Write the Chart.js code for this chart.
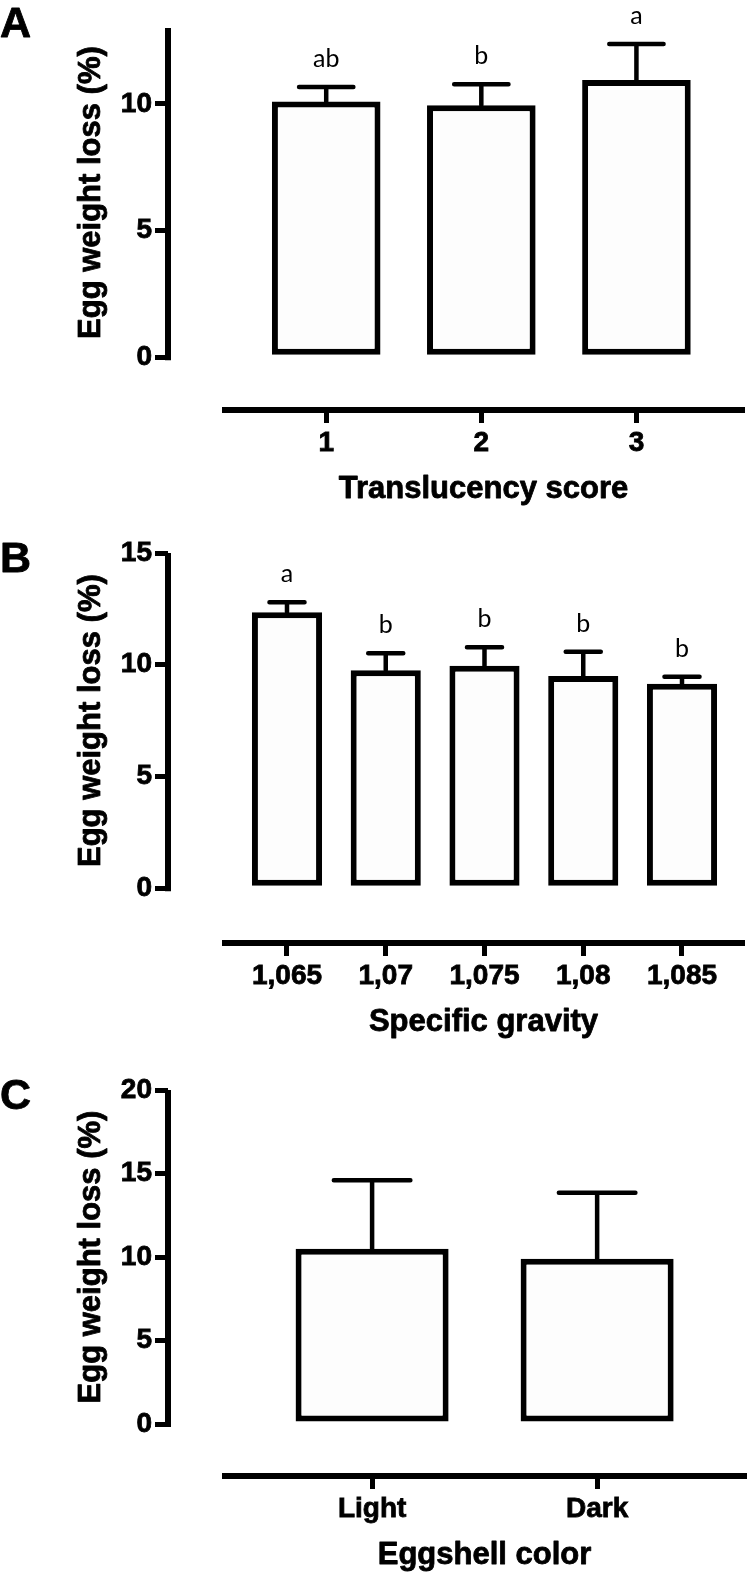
<!DOCTYPE html>
<html>
<head>
<meta charset="utf-8">
<script src="https://cdn.jsdelivr.net/npm/chart.js@4.4.0/dist/chart.umd.min.js"></script>
<style>
    body { margin: 0; background: #fff; }
    canvas { display: block; }
</style>
</head>
<body>
<canvas id="chartA" width="750" height="520"></canvas>
<canvas id="chartB" width="750" height="530"></canvas>
<canvas id="chartC" width="750" height="526"></canvas>
<script>
// Egg weight loss - three bar panels (Prism style, offset axes)

// Panel A: translucency score
const scoreLabels = ['1', '2', '3'];
const scoreMeans = [10.1, 9.95, 10.95];
const scoreErrors = [0.57, 0.83, 1.42];
const scoreLetters = ['ab', 'b', 'a'];
const scoreTicks = [0, 5, 10];

// Panel B: specific gravity
const gravityLabels = ['1,065', '1,07', '1,075', '1,08', '1,085'];
const gravityMeans = [12.35, 9.75, 9.95, 9.5, 9.15];
const gravityErrors = [0.45, 0.77, 0.83, 1.08, 0.31];
const gravityLetters = ['a', 'b', 'b', 'b', 'b'];
const gravityTicks = [0, 5, 10, 15];

// Panel C: eggshell color
const colorLabels = ['Light', 'Dark'];
const colorMeans = [10.5, 9.9];
const colorErrors = [4.1, 3.95];
const colorTicks = [0, 5, 10, 15, 20];

const FONT = '"Liberation Sans", Arial, sans-serif';
Chart.defaults.font.family = FONT;
Chart.defaults.color = '#000';

// heavy text, like the Prism export
function heavyText(ctx, text, x, y) {
    ctx.fillText(text, x, y);
    ctx.strokeText(text, x, y);
}

// Draws error bars, letters, the detached axis lines and titles
const prismPlugin = {
    id: 'prism',
    afterDatasetsDraw(chart, args, opts) {
        const ctx = chart.ctx;
        const area = chart.chartArea;
        const y = chart.scales.y;
        const meta = chart.getDatasetMeta(0);

        ctx.save();
        ctx.strokeStyle = '#000';
        ctx.fillStyle = '#000';

        // error bars (upper only)
        ctx.lineWidth = 4.5;
        ctx.lineCap = 'round';
        meta.data.forEach((bar, i) => {
            const top = y.getPixelForValue(opts.means[i] + opts.errors[i]);
            ctx.beginPath();
            ctx.moveTo(bar.x, bar.y);
            ctx.lineTo(bar.x, top);
            ctx.moveTo(bar.x - bar.width / 4, top);
            ctx.lineTo(bar.x + bar.width / 4, top);
            ctx.stroke();

            if (opts.letters) {
                ctx.font = '25px Lato, "Open Sans", sans-serif';
                ctx.textAlign = 'center';
                ctx.textBaseline = 'middle';
                ctx.fillText(opts.letters[i], bar.x, top - 28);
            }
        });

        // y axis line from 0 to max
        ctx.lineCap = 'butt';
        ctx.lineWidth = 6;
        const yTop = y.getPixelForValue(y.max);
        const yZero = y.getPixelForValue(0);
        ctx.beginPath();
        ctx.moveTo(area.left, yTop);
        ctx.lineTo(area.left, yZero + 3);
        ctx.stroke();

        // detached x axis line
        ctx.beginPath();
        ctx.moveTo(opts.axisStart, area.bottom);
        ctx.lineTo(area.right, area.bottom);
        ctx.stroke();

        // axis titles
        ctx.lineWidth = 0.8;
        ctx.lineJoin = 'round';
        ctx.font = 'bold 31px ' + FONT;
        ctx.textAlign = 'center';
        ctx.textBaseline = 'middle';
        heavyText(ctx, opts.xTitle, (opts.axisStart + area.right) / 2, area.bottom + 79);

        ctx.save();
        ctx.translate(91, (yTop + yZero) / 2);
        ctx.rotate(-Math.PI / 2);
        heavyText(ctx, 'Egg weight loss (%)', 0, 0);
        ctx.restore();

        // panel letter
        ctx.font = 'bold 43px ' + FONT;
        ctx.textAlign = 'left';
        ctx.textBaseline = 'alphabetic';
        heavyText(ctx, opts.panel, 0, opts.panelY);

        ctx.restore();
    }
};

function makePanel(id, p) {
    const ctx = document.getElementById(id).getContext('2d');
    const tickFont = { size: 28, weight: 'bold' };

    return new Chart(ctx, {
        type: 'bar',
        data: {
            datasets: [{
                data: p.means.map((v, i) => ({ x: i + 1, y: v })),
                backgroundColor: '#fdfdfd',
                borderColor: '#000',
                borderWidth: 6,
                borderSkipped: false,
                barPercentage: p.barPct,
                categoryPercentage: 1
            }]
        },
        options: {
            responsive: false,
            animation: false,
            layout: { padding: { top: p.padTop, right: p.padRight, left: 0, bottom: 0 } },
            plugins: {
                legend: { display: false },
                tooltip: { enabled: false },
                prism: {
                    means: p.means,
                    errors: p.errors,
                    letters: p.letters,
                    axisStart: 222,
                    xTitle: p.xTitle,
                    panel: p.panel,
                    panelY: p.panelY
                }
            },
            scales: {
                x: {
                    type: 'linear',
                    offset: false,
                    min: p.xMin,
                    max: p.xMax,
                    afterBuildTicks: s => { s.ticks = p.labels.map((_, i) => ({ value: i + 1 })); },
                    afterFit: s => { s.height = p.xHeight; },
                    ticks: {
                        callback: v => p.labels[Math.round(v) - 1],
                        autoSkip: false,
                        maxRotation: 0,
                        font: tickFont,
                        color: '#000',
                        textStrokeColor: '#000',
                        textStrokeWidth: 0.8,
                        padding: 3
                    },
                    grid: { offset: false, drawOnChartArea: false, drawTicks: true, tickLength: 13, lineWidth: 5, color: '#000' },
                    border: { display: false }
                },
                y: {
                    min: p.yMin,
                    max: p.yMax,
                    afterBuildTicks: s => { s.ticks = p.yTicks.map(v => ({ value: v })); },
                    afterFit: s => { s.width = 168; },
                    ticks: {
                        callback: v => String(v),
                        font: tickFont,
                        color: '#000',
                        textStrokeColor: '#000',
                        textStrokeWidth: 0.8,
                        padding: 3
                    },
                    grid: { drawOnChartArea: false, drawTicks: true, tickLength: 13, lineWidth: 5, color: '#000' },
                    border: { display: false }
                }
            }
        },
        plugins: [prismPlugin]
    });
}

makePanel('chartA', {
    labels: scoreLabels, means: scoreMeans, errors: scoreErrors, letters: scoreLetters,
    yTicks: scoreTicks, yMin: -2.087, yMax: 13,
    xMin: -0.02, xMax: 3.70, barPct: 0.70,
    padTop: 28, padRight: 5, xHeight: 110,
    xTitle: 'Translucency score', panel: 'A', panelY: 37
});

makePanel('chartB', {
    labels: gravityLabels, means: gravityMeans, errors: gravityErrors, letters: gravityLetters,
    yTicks: gravityTicks, yMin: -2.45, yMax: 15,
    xMin: -0.205, xMax: 5.638, barPct: 0.71,
    padTop: 33, padRight: 5, xHeight: 107,
    xTitle: 'Specific gravity', panel: 'B', panelY: 52
});

makePanel('chartC', {
    labels: colorLabels, means: colorMeans, errors: colorErrors, letters: null,
    yTicks: colorTicks, yMin: -3.11, yMax: 20,
    xMin: 0.093, xMax: 2.666, barPct: 0.68,
    padTop: 40, padRight: 3, xHeight: 100,
    xTitle: 'Eggshell color', panel: 'C', panelY: 59
});
</script>
</body>
</html>
